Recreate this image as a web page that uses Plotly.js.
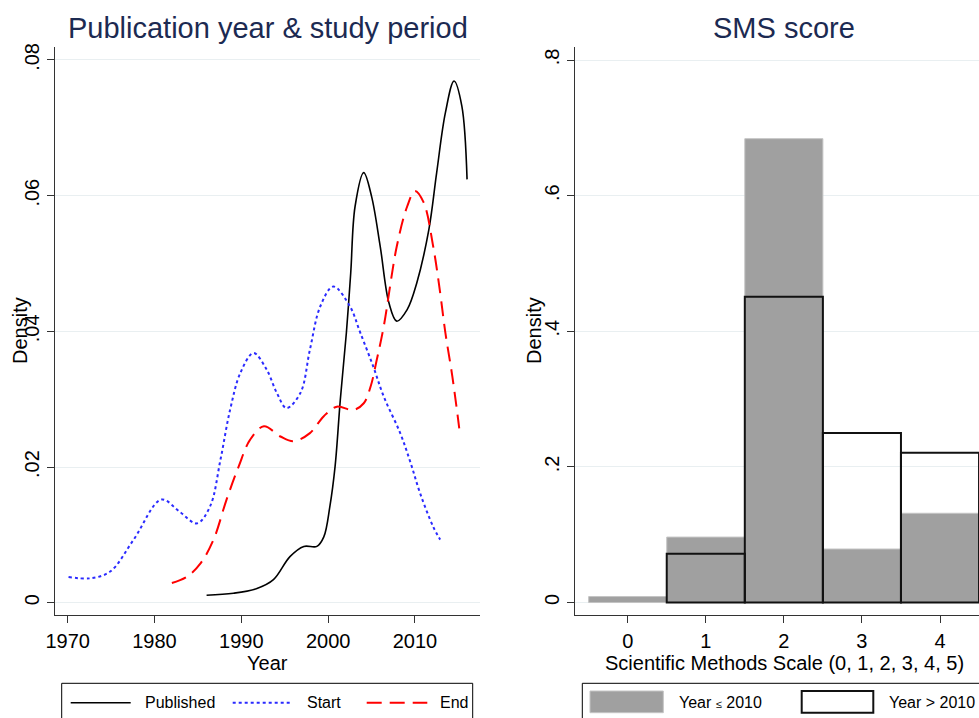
<!DOCTYPE html>
<html>
<head>
<meta charset="utf-8">
<script src="https://cdn.plot.ly/plotly-3.0.1.min.js"></script>
<style>
html, body { margin:0; padding:0; overflow:hidden; background:#fff; }
#chart { width:1000px; height:740px; }
</style>
</head>
<body>
<div id="chart"></div>
<script>
// ---- Data ----
const publishedYear = [1986.0, 1989.1, 1991.8, 1993.7, 1995.6, 1997.2, 1998.7, 1999.5, 2000.2, 2000.8, 2001.4, 2002.1, 2002.6, 2003.1, 2004.1, 2005.0, 2006.0, 2007.0, 2007.9, 2009.1, 2010.2, 2011.6, 2012.5, 2013.5, 2014.5, 2015.4, 2016.0];
const publishedDensity = [0.0011, 0.0014, 0.0021, 0.0034, 0.0068, 0.0083, 0.0083, 0.0097, 0.0142, 0.0201, 0.0299, 0.0398, 0.0486, 0.0584, 0.0634, 0.0599, 0.0525, 0.0442, 0.0415, 0.0432, 0.0471, 0.0550, 0.0634, 0.0722, 0.0769, 0.0732, 0.0624];

const startYear = [1970.1, 1972.6, 1974.9, 1977.6, 1980.8, 1982.9, 1984.9, 1986.4, 1987.6, 1988.7, 1989.9, 1991.4, 1992.9, 1994.1, 1995.2, 1996.8, 1997.9, 1999.1, 2000.6, 2002.5, 2003.7, 2005.2, 2006.4, 2008.3, 2009.5, 2010.6, 2012.1, 2012.9];
const startDensity = [0.0038, 0.0036, 0.0046, 0.0093, 0.0152, 0.0134, 0.0117, 0.0142, 0.0211, 0.0284, 0.0339, 0.0368, 0.0344, 0.0309, 0.0287, 0.0309, 0.0373, 0.0437, 0.0466, 0.0437, 0.0398, 0.0348, 0.0304, 0.0250, 0.0206, 0.0161, 0.0112, 0.0093];

const endYear = [1982.0, 1983.7, 1985.3, 1986.8, 1988.3, 1989.7, 1991.0, 1992.6, 1994.5, 1996.0, 1997.9, 1999.5, 2001.0, 2002.9, 2004.1, 2004.9, 2005.6, 2006.4, 2007.9, 2009.1, 2010.0, 2011.0, 2012.1, 2012.9, 2013.5, 2014.3, 2015.1];
const endDensity = [0.0029, 0.0038, 0.0058, 0.0093, 0.0152, 0.0201, 0.0240, 0.0260, 0.0245, 0.0238, 0.0250, 0.0275, 0.0289, 0.0284, 0.0294, 0.0319, 0.0358, 0.0407, 0.0525, 0.0584, 0.0607, 0.0590, 0.0525, 0.0457, 0.0398, 0.0334, 0.0257];

const seriesNames = ['Published', 'Start', 'End'];

const smsScore = [0, 1, 2, 3, 4];
const densityEarly = [0.0088, 0.0965, 0.684, 0.0789, 0.1316];
const densityLate = [null, 0.0719, 0.451, 0.250, 0.221];  // no bar drawn at score 0
const groupNames = ['Year <span style="font-size:11px">\u2264</span> 2010', 'Year > 2010'];

const yearTicks = [1970, 1980, 1990, 2000, 2010];
const leftYTicks = [0, 0.02, 0.04, 0.06, 0.08];
const leftYLabels = ['0', '.02', '.04', '.06', '.08'];
const rightYTicks = [0, 0.2, 0.4, 0.6, 0.8];
const rightYLabels = ['0', '.2', '.4', '.6', '.8'];

const titles = ['Publication year & study period', 'SMS score'];
const xTitles = ['Year', 'Scientific Methods Scale (0, 1, 2, 3, 4, 5)'];
const yTitle = 'Density';

// ---- Styles ----
const FONT = 'Liberation Sans, Arial, sans-serif';
const W = 1000, H = 740;
const px = v => v / W;
const py = v => 1 - v / H;
const lineStyles = [
  {color: '#000000', width: 1.6},
  {color: '#2a2aff', width: 2, dash: 'dot'},
  {color: '#ff0000', width: 2, dash: '15px,8px'}
];

const traces = [
  {x: publishedYear, y: publishedDensity, name: seriesNames[0], type: 'scatter', mode: 'lines', line: Object.assign({shape: 'spline', smoothing: 1}, lineStyles[0]), xaxis: 'x', yaxis: 'y'},
  {x: startYear, y: startDensity, name: seriesNames[1], type: 'scatter', mode: 'lines', line: Object.assign({shape: 'spline', smoothing: 1}, lineStyles[1]), xaxis: 'x', yaxis: 'y'},
  {x: endYear, y: endDensity, name: seriesNames[2], type: 'scatter', mode: 'lines', line: Object.assign({shape: 'spline', smoothing: 1}, lineStyles[2]), xaxis: 'x', yaxis: 'y'},
  {x: smsScore, y: densityEarly, name: groupNames[0], type: 'bar', width: 1, marker: {color: '#a0a0a0', line: {color: '#c4c4c4', width: 1}}, xaxis: 'x2', yaxis: 'y2'},
  {x: smsScore, y: densityLate, name: groupNames[1], type: 'bar', width: 1, marker: {color: 'rgba(0,0,0,0)', line: {color: '#111111', width: 2}}, xaxis: 'x2', yaxis: 'y2'}
];

const axisCommon = {
  showline: true, linecolor: '#333', linewidth: 1,
  ticks: 'outside', ticklen: 7, tickcolor: '#333', tickwidth: 1,
  zeroline: false, fixedrange: true,
  tickfont: {family: FONT, size: 20, color: '#000'}
};
const yDomain = [py(615), py(47)];

const layout = {
  width: W, height: H,
  margin: {l: 0, r: 0, t: 0, b: 0},
  paper_bgcolor: '#fff', plot_bgcolor: '#fff',
  showlegend: false,
  barmode: 'overlay',
  xaxis: Object.assign({}, axisCommon, {domain: [px(55), px(480)], range: [1968.54, 2017.49], tickvals: yearTicks, showgrid: false, anchor: 'y', ticklabelstandoff: 1}),
  yaxis: Object.assign({}, axisCommon, {domain: yDomain, range: [-0.00181, 0.08191], tickvals: leftYTicks, ticktext: leftYLabels, tickangle: -90, showgrid: true, gridcolor: '#e9eff1', gridwidth: 1, anchor: 'x', ticklabelstandoff: 0}),
  xaxis2: Object.assign({}, axisCommon, {domain: [px(575), px(992.7)], range: [-0.675, 4.675], tickvals: smsScore, showgrid: false, anchor: 'y2', ticklabelstandoff: 1}),
  yaxis2: Object.assign({}, axisCommon, {domain: yDomain, range: [-0.0184, 0.8192], tickvals: rightYTicks, ticktext: rightYLabels, tickangle: -90, showgrid: true, gridcolor: '#e9eff1', gridwidth: 1, anchor: 'x2', ticklabelstandoff: 0}),
  annotations: [],
  shapes: []
};

const ann = (text, x, y, opts) => Object.assign({
  text: text, x: x, y: y, xref: 'paper', yref: 'paper', showarrow: false,
  xanchor: 'center', yanchor: 'middle', borderpad: 0, font: {family: FONT, size: 20, color: '#000'}
}, opts || {});

// Panel titles
layout.annotations.push(ann(titles[0], px(267.5), py(28), {font: {family: FONT, size: 29, color: '#1c2a52'}}));
layout.annotations.push(ann(titles[1], px(784), py(28), {font: {family: FONT, size: 29, color: '#1c2a52'}}));
// Axis titles
layout.annotations.push(ann(xTitles[0], px(267.5), py(663)));
layout.annotations.push(ann(xTitles[1], px(784), py(663)));
layout.annotations.push(ann(yTitle, px(20), py(331), {textangle: -90}));
layout.annotations.push(ann(yTitle, px(534), py(331), {textangle: -90}));

// Legend boxes
layout.shapes.push({type: 'rect', xref: 'paper', yref: 'paper', x0: px(61.7), x1: px(472.7), y0: py(683.3), y1: py(760), line: {color: '#000', width: 1}, fillcolor: 'rgba(0,0,0,0)'});
layout.shapes.push({type: 'rect', xref: 'paper', yref: 'paper', x0: px(582.3), x1: px(1060), y0: py(683.3), y1: py(760), line: {color: '#000', width: 1}, fillcolor: 'rgba(0,0,0,0)'});

const legY = 702.7;
const legLines = [[70.7, 130.7, 143.5], [232.7, 290, 305.5], [366.7, 427.3, 439]];
legLines.forEach((p, i) => {
  layout.shapes.push({type: 'line', xref: 'paper', yref: 'paper', x0: px(p[0]), x1: px(p[1]), y0: py(legY), y1: py(legY), line: lineStyles[i]});
  layout.annotations.push(ann(seriesNames[i], px(p[2]), py(legY), {xanchor: 'left', font: {family: FONT, size: 16, color: '#000'}}));
});
// bar legend swatches
layout.shapes.push({type: 'rect', xref: 'paper', yref: 'paper', x0: px(590), x1: px(663.3), y0: py(712.7), y1: py(691), fillcolor: '#a0a0a0', line: {color: '#c4c4c4', width: 1}});
layout.shapes.push({type: 'rect', xref: 'paper', yref: 'paper', x0: px(801.7), x1: px(873.3), y0: py(712.7), y1: py(691), fillcolor: 'rgba(0,0,0,0)', line: {color: '#111', width: 2}});
layout.annotations.push(ann(groupNames[0], px(678), py(legY), {xanchor: 'left', font: {family: FONT, size: 16, color: '#000'}}));
layout.annotations.push(ann(groupNames[1], px(888), py(legY), {xanchor: 'left', font: {family: FONT, size: 16, color: '#000'}}));

Plotly.newPlot('chart', traces, layout, {displayModeBar: false, staticPlot: true});
</script>
</body>
</html>
